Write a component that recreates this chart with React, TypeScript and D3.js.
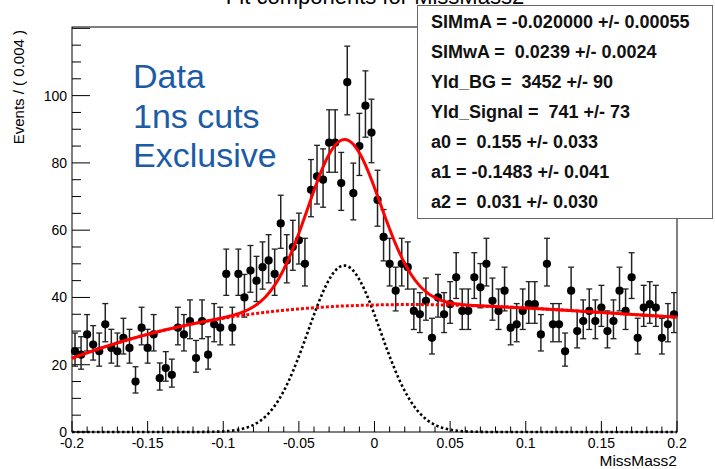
import React from "react";
import * as d3 from "d3";

// Histogram of MissMass2: 100 bins of width 0.004 between -0.2 and 0.2
const xMin = -0.2;
const xMax = 0.2;
const binWidth = 0.004;
const counts = [
  24, 23, 29, 26, 24, 32, 25, 24, 28, 25,
  15, 31, 25, 29, 16, 19, 17, 31, 29, 33,
  22, 33, 23, 32, 31, 47, 31, 47, 40, 48,
  45, 49, 51, 47, 62, 51, 55, 57, 50, 72,
  76, 75, 86, 86, 74, 104, 71, 85, 97, 89,
  69, 58, 50, 42, 50, 49, 36, 35, 39, 28,
  40, 35, 38, 46, 36, 36, 46, 43, 50, 39,
  36, 42, 31, 32, 36, 38, 38, 29, 50, 32,
  32, 24, 42, 30, 33, 36, 33, 37, 30, 33,
  42, 36, 46, 28, 37, 38, 37, 28, 32, 35,
];

// Fit parameters (Gaussian signal + 2nd-order Chebychev background)
const paramNames = ["SIMmA", "SIMwA", "Yld_BG", "Yld_Signal", "a0", "a1", "a2"];
const paramValues = [-0.02, 0.0239, 3452, 741, 0.155, -0.1483, 0.031];
const paramLabels = [
  "SIMmA = -0.020000 +/- 0.00055",
  "SIMwA =  0.0239 +/- 0.0024",
  "Yld_BG =  3452 +/- 90",
  "Yld_Signal =  741 +/- 73",
  "a0 =  0.155 +/- 0.033",
  "a1 = -0.1483 +/- 0.041",
  "a2 =  0.031 +/- 0.030",
];

const xTicks = [-0.2, -0.15, -0.1, -0.05, 0, 0.05, 0.1, 0.15, 0.2];
const xTickLabels = ["-0.2", "-0.15", "-0.1", "-0.05", "0", "0.05", "0.1", "0.15", "0.2"];
const yTicks = [0, 20, 40, 60, 80, 100];
const infoLines = ["Data", "1ns cuts", "Exclusive"];

const W = 715;
const H = 469;
const frame = { left: 72, right: 677, top: 27, bottom: 432 };

const P = Object.fromEntries(paramNames.map((n, i) => [n, paramValues[i]]));

function signalPerBin(x: number) {
  const s = P.SIMwA;
  const z = (x - P.SIMmA) / s;
  return (P.Yld_Signal * binWidth * Math.exp(-0.5 * z * z)) / (Math.sqrt(2 * Math.PI) * s);
}

function bgPerBin(x: number) {
  const u = (2 * (x - xMin)) / (xMax - xMin) - 1;
  const t1 = u;
  const t2 = 2 * u * u - 1;
  const t3 = 4 * u * u * u - 3 * u;
  const f = 1 + P.a0 * t1 + P.a1 * t2 + P.a2 * t3;
  const norm = ((xMax - xMin) / 2) * (2 - (2 / 3) * P.a1);
  return (P.Yld_BG * binWidth * f) / norm;
}

export default function App() {
  const x = d3.scaleLinear().domain([xMin, xMax]).range([frame.left, frame.right]);
  const y = d3.scaleLinear().domain([0, 120.4]).range([frame.bottom, frame.top]);

  const samples = d3.range(0, 601).map((i) => xMin + ((xMax - xMin) * i) / 600);
  const line = d3
    .line<[number, number]>()
    .x((d) => x(d[0]))
    .y((d) => y(d[1]));
  const totalPath = line(samples.map((v) => [v, signalPerBin(v) + bgPerBin(v)]));
  const bgPath = line(samples.map((v) => [v, bgPerBin(v)]));
  const sigPath = line(samples.map((v) => [v, signalPerBin(v)]));

  const points = counts.map((n, i) => {
    const c = xMin + binWidth * (i + 0.5);
    const r = Math.sqrt(n + 0.25);
    return { c, n, lo: n - (r - 0.5), hi: n + (r + 0.5) };
  });

  const minorX = d3.range(0, 41).map((i) => xMin + i * 0.01);
  const minorY = d3.range(0, 25).map((i) => i * 5);

  const font = "'Liberation Sans', Arial, Helvetica, sans-serif";

  return (
    <svg
      width={W}
      height={H}
      style={{ position: "absolute", left: 0, top: 0, background: "#fff" }}
      fontFamily={font}
    >
      <rect x={0} y={0} width={W} height={H} fill="#fff" />
      {/* title, mostly above the visible area */}
      <text x={375} y={4} textAnchor="middle" fontSize={22} fill="#000">
        Fit components for MissMass2
      </text>

      {/* frame */}
      <rect
        x={frame.left}
        y={frame.top}
        width={frame.right - frame.left}
        height={frame.bottom - frame.top}
        fill="none"
        stroke="#000"
        strokeWidth={1}
      />

      {/* x ticks */}
      {minorX.map((t, i) => {
        const major = i % 5 === 0;
        return (
          <line
            key={"mx" + i}
            x1={x(t)}
            x2={x(t)}
            y1={frame.bottom}
            y2={frame.bottom - (major ? 11 : 5.5)}
            stroke="#000"
            strokeWidth={1}
          />
        );
      })}
      {xTicks.map((t, i) => (
        <text key={"xl" + i} x={x(t)} y={448} textAnchor="middle" fontSize={14} fill="#000">
          {xTickLabels[i]}
        </text>
      ))}
      <text x={frame.right} y={466} textAnchor="end" fontSize={15.5} fill="#000">
        MissMass2
      </text>

      {/* y ticks */}
      {minorY.map((t) => {
        const major = t % 20 === 0;
        return (
          <line
            key={"my" + t}
            x1={frame.left}
            x2={frame.left + (major ? 18 : 9)}
            y1={y(t)}
            y2={y(t)}
            stroke="#000"
            strokeWidth={1}
          />
        );
      })}
      {yTicks.map((t) => (
        <text key={"yl" + t} x={67} y={y(t) + 5} textAnchor="end" fontSize={14} fill="#000">
          {t}
        </text>
      ))}
      <text
        transform={`translate(24, 30) rotate(-90)`}
        textAnchor="end"
        fontSize={15}
        fill="#000"
      >
        Events / ( 0.004 )
      </text>

      {/* data points with error bars */}
      {points.map((p, i) => (
        <g key={"p" + i}>
          <line x1={x(p.c)} x2={x(p.c)} y1={y(p.lo)} y2={y(p.hi)} stroke="#222" strokeWidth={1.5} />
          <line x1={x(p.c) - 3} x2={x(p.c) + 3} y1={y(p.lo)} y2={y(p.lo)} stroke="#222" strokeWidth={1.3} />
          <line x1={x(p.c) - 3} x2={x(p.c) + 3} y1={y(p.hi)} y2={y(p.hi)} stroke="#222" strokeWidth={1.3} />
          <circle cx={x(p.c)} cy={y(p.n)} r={4.1} fill="#000" />
        </g>
      ))}

      {/* fit components */}
      <path d={sigPath || ""} fill="none" stroke="#000" strokeWidth={2.6} strokeDasharray="2.5,2.5" />
      <path d={bgPath || ""} fill="none" stroke="#f00" strokeWidth={3} strokeDasharray="3,2" />
      <path d={totalPath || ""} fill="none" stroke="#f00" strokeWidth={3} />

      {/* annotation */}
      {infoLines.map((s, i) => (
        <text key={"info" + i} x={133} y={88 + i * 39.5} fontSize={34} fill="#1c5ba6">
          {s}
        </text>
      ))}

      {/* parameter box */}
      <rect x={417.5} y={5.5} width={295} height={213} fill="#fff" stroke="#666" strokeWidth={1} />
      {paramLabels.map((s, i) => (
        <text
          key={"par" + i}
          x={431}
          y={28 + i * 30}
          fontSize={18}
          fontWeight="bold"
          fill="#111"
          style={{ whiteSpace: "pre" }}
        >
          {s}
        </text>
      ))}
    </svg>
  );
}
